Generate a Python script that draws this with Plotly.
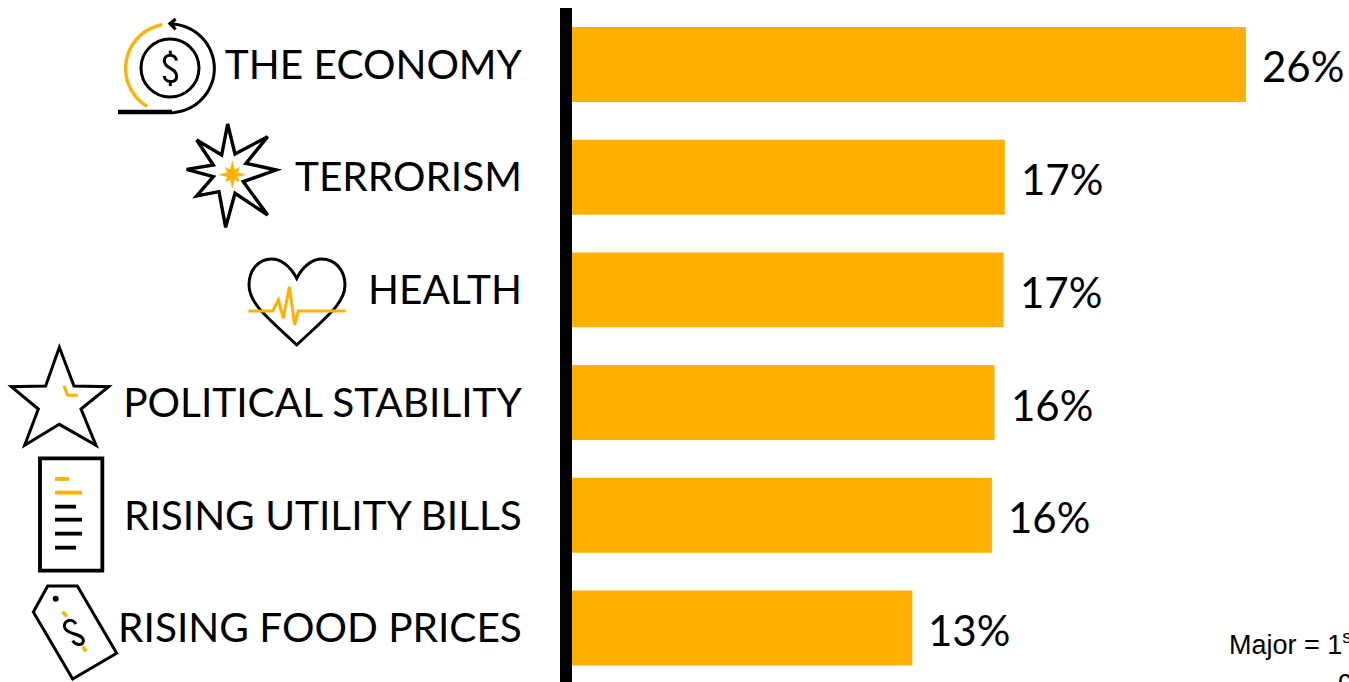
import math
import plotly.graph_objects as go

W, H = 1349, 682
ORANGE = "#FFB000"
BLACK = "#000000"
LABEL_FONT = "Lato"

# Share of respondents naming each concern, in percent
categories = [
    "THE ECONOMY",
    "TERRORISM",
    "HEALTH",
    "POLITICAL STABILITY",
    "RISING UTILITY BILLS",
    "RISING FOOD PRICES",
]
shares = [26.0, 16.7, 16.65, 16.3, 16.2, 13.13]


def to_paper(path, scale=1 / 3, ox=0, oy=0):
    """Convert an icon path given in drawing units to paper coordinates."""
    out, pair = [], []
    for tok in path.split():
        if tok.isalpha():
            out.append(tok)
        else:
            pair.append(float(tok))
            if len(pair) == 2:
                x = pair[0] * scale + ox
                y = pair[1] * scale + oy
                out.append(f"{x / W:.5f},{1 - y / H:.5f}")
                pair = []
    return " ".join(out)


def stroke(path, color=BLACK, width=3, oy=0, ox=0, fill="rgba(0,0,0,0)"):
    return dict(
        type="path", xref="paper", yref="paper",
        path=to_paper(path, ox=ox, oy=oy),
        line=dict(color=color, width=width),
        fillcolor=fill, layer="above",
    )


def polyline(points, closed=False):
    body = "M " + " L ".join(f"{x} {y}" for x, y in points)
    return body + (" Z" if closed else "")


def arc(cx, cy, r, start, end, steps=48):
    """Polyline through a circular arc, angles in degrees, y pointing down."""
    pts = []
    for i in range(steps + 1):
        a = math.radians(start + (end - start) * i / steps)
        pts.append((round(cx + r * math.cos(a), 2), round(cy + r * math.sin(a), 2)))
    return polyline(pts)


def circle(cx, cy, r, color=BLACK, width=3, fill="rgba(0,0,0,0)"):
    return dict(
        type="circle", xref="paper", yref="paper",
        x0=(cx - r) / W, x1=(cx + r) / W,
        y0=1 - (cy + r) / H, y1=1 - (cy - r) / H,
        line=dict(color=color, width=width), fillcolor=fill, layer="above",
    )


shapes = []

# Economy icon: coin inside a circular arrow
shapes += [
    circle(170, 68, 29),
    stroke(arc(510, 205, 133, -88, 88)),
    stroke(arc(510, 205, 133, 260, 121), color=ORANGE, width=3.4),
    stroke("M 354 336 L 516 336", width=4.4),
    stroke("M 527 57 L 510 71 L 527 88", width=3.2),
    stroke("M 529 182 C 527 160 493 160 493 182 C 493 208 530 202 530 230 "
           "C 530 250 493 250 493 228"),
    stroke("M 511 152 L 511 165"),
    stroke("M 511 246 L 511 258"),
]

# Terrorism icon: blast outline with an orange core
shapes.append(stroke(polyline([
    (683, 372), (705, 462), (803, 410), (738, 490), (828, 510), (730, 545),
    (803, 645), (705, 580), (677, 682), (657, 575), (590, 588), (640, 530),
    (560, 508), (640, 495), (590, 420), (665, 465),
], closed=True), width=3.4))
core = []
for k in range(16):
    radius = 40 if k % 4 == 0 else (30 if k % 4 == 2 else 16)
    ang = math.radians(k * 22.5 - 90)
    core.append((round(697 + radius * math.cos(ang), 1), round(524 + radius * math.sin(ang), 1)))
shapes.append(stroke(polyline(core, closed=True), color=ORANGE, width=0.5, fill=ORANGE))

# Health icon: heart with a pulse trace
shapes += [
    stroke("M 890 115 C 870 75 840 57 815 57 C 775 57 747 90 747 135 "
           "C 747 190 800 230 890 315 C 980 230 1035 190 1035 135 "
           "C 1035 90 1005 57 965 57 C 940 57 910 75 890 115 Z", oy=240),
    stroke(polyline([(745, 213), (818, 213), (835, 180), (850, 235), (868, 140),
                     (884, 255), (895, 213), (1037, 213)]),
           color=ORANGE, oy=240),
]

# Political stability icon: star
shapes += [
    stroke(polyline([(178, 322), (222, 438), (326, 440), (243, 507), (288, 616),
                     (178, 553), (74, 616), (115, 507), (34, 440), (137, 438)],
                    closed=True), oy=240),
    stroke(polyline([(192, 437), (203, 466), (233, 466)]), color=ORANGE, oy=240),
]

# Utility bills icon: page with text lines
shapes.append(stroke("M 120 25 L 307 25 L 307 362 L 120 362 Z", width=3.8, oy=450))
for x1, y, col in [(207, 87, ORANGE), (246, 128, ORANGE), (228, 170, BLACK),
                   (246, 209, BLACK), (246, 251, BLACK), (228, 293, BLACK)]:
    shapes.append(stroke(f"M 165 {y} L {x1} {y}", color=col, width=3.8, oy=450))

# Food prices icon: price tag
shapes += [
    stroke(polyline([(143, 408), (232, 408), (350, 610), (218, 687), (100, 486)],
                    closed=True), oy=450),
    circle(55.7, 598.7, 3, width=0, fill=BLACK),
    stroke("M 188 485 L 200 500", color=ORANGE, width=3.4, oy=450),
    stroke("M 248 590 L 258 605", color=ORANGE, width=3.4, oy=450),
    stroke("M 228 522 C 215 500 185 515 195 535 C 205 555 250 550 250 572 "
           "C 250 590 225 585 218 572", oy=450),
]

annotations = [
    dict(
        x=v, y=c, xref="x", yref="y", text=f"{v:.0f}%", showarrow=False,
        xanchor="left", yanchor="middle", xshift=14, yshift=-2,
        font=dict(family=LABEL_FONT, size=42, color=BLACK),
    )
    for c, v in zip(categories, shares)
]

# Footnote running off the right edge of the page
for text, x_px, y_px in [("Major = 1<sup>st</sup>", 1228, 643), ("choice", 1337, 680)]:
    annotations.append(dict(
        x=x_px / W, y=1 - y_px / H, xref="paper", yref="paper", text=text,
        showarrow=False, xanchor="left", yanchor="middle", xshift=-1,
        align="left", font=dict(family="Liberation Sans", size=27, color=BLACK),
    ))

fig = go.Figure(go.Bar(
    x=shares, y=categories, orientation="h", width=0.665,
    marker=dict(color=ORANGE, line=dict(width=0)), hoverinfo="skip",
))

fig.update_layout(
    width=W, height=H,
    margin=dict(l=0, r=0, t=0, b=0, autoexpand=False),
    paper_bgcolor="white", plot_bgcolor="white",
    showlegend=False, shapes=shapes, annotations=annotations,
    xaxis=dict(visible=False, domain=[572 / W, 1], range=[0, 777 / 25.92], fixedrange=True),
    yaxis=dict(
        type="category", categoryorder="array", categoryarray=categories,
        domain=[0, 674 / H], range=[5.479, -0.501],
        showline=True, linecolor=BLACK, linewidth=12,
        ticks="outside", ticklen=30, tickcolor="rgba(0,0,0,0)", tickwidth=1,
        showgrid=False, zeroline=False, automargin=False, fixedrange=True,
        tickfont=dict(family=LABEL_FONT, size=40.6, color=BLACK),
    ),
)

fig.write_html("out.html")
